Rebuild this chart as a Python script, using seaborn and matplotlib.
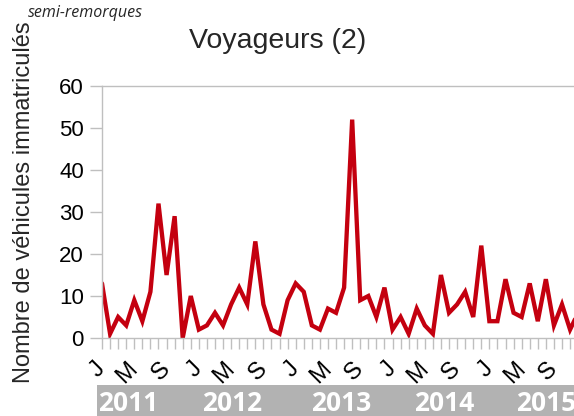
import matplotlib
matplotlib.use("Agg")
import matplotlib.pyplot as plt
from matplotlib.patches import Rectangle
import matplotlib.transforms as mtransforms
import numpy as np
import pandas as pd
import seaborn as sns

# ---- data ----
years = ["2011", "2012", "2013", "2014", "2015"]
month_letters = ["J", "M", "S"]  # labels every 4 months
v2011 = [13, 1, 5, 3, 9, 4, 11, 32, 15, 29, 0, 10]
v2012 = [2, 3, 6, 3, 8, 12, 8, 23, 8, 2, 1, 9]
v2013 = [13, 11, 3, 2, 7, 6, 12, 52, 9, 10, 5, 12]
v2014 = [2, 5, 1, 7, 3, 1, 15, 6, 8, 11, 5, 22]
v2015 = [4, 4, 14, 6, 5, 13, 4, 14, 3, 8, 2, 6]
yticks = [0, 10, 20, 30, 40, 50, 60]

values = v2011 + v2012 + v2013 + v2014 + v2015
df = pd.DataFrame({"idx": np.arange(len(values)), "val": values})

sns.set_theme(style="white")
plt.rcParams["font.family"] = ["Liberation Sans", "DejaVu Sans"]

W, H = 574, 416
fig = plt.figure(figsize=(W / 100, H / 100), dpi=100)
px_per = 8.07
left, top, bottom = 102, 86, 338
xmax = 60
ax = fig.add_axes([left / W, (H - bottom) / H, xmax * px_per / W, (bottom - top) / H])

sns.lineplot(data=df, x="idx", y="val", ax=ax, color="#c4000f", linewidth=3.1,
             solid_joinstyle="miter")

ax.set_xlim(0, xmax)
ax.set_ylim(0, 60)
ax.set_xlabel("")
ax.set_ylabel("")

gray = "#bfbfbf"
for s in ["left", "top", "bottom"]:
    ax.spines[s].set_color(gray)
    ax.spines[s].set_linewidth(1.0)
ax.spines["right"].set_visible(False)

ax.set_yticks(yticks)
ax.set_yticklabels([str(t) for t in yticks])
ax.tick_params(axis="y", direction="out", length=9, width=1, color=gray,
               labelsize=16, labelcolor="black", pad=4, left=True)

n = len(values)
ax.set_xticks(np.arange(n))
xl = []
for i in range(n):
    m = i % 12
    xl.append(month_letters[m // 4] if m % 4 == 0 else "")
ax.set_xticklabels(xl)
ax.tick_params(axis="x", direction="out", length=8, width=1, color=gray,
               labelsize=17, labelcolor="black", pad=12, bottom=True)
for lab in ax.get_xticklabels():
    lab.set_rotation(45)
    lab.set_ha("right")
    lab.set_va("center")
    lab.set_rotation_mode("anchor")

# year band
band = Rectangle((97 / W, 0), 1 - 97 / W, (H - 385) / H, transform=fig.transFigure,
                 facecolor="#b2b2b2", edgecolor="none", zorder=0)
fig.add_artist(band)
year_centers = [3.2, 16.1, 29.6, 42.4, 55.0]
trans = mtransforms.blended_transform_factory(ax.transData, fig.transFigure)
for yr, xc in zip(years, year_centers):
    fig.text(xc, (H - 411) / H, yr, transform=trans, ha="center", va="baseline",
             color="white", fontsize=19, fontweight="bold", family=["Open Sans", "DejaVu Sans"])

# texts
fig.text(277.5 / W, (H - 48) / H, "Voyageurs (2)", ha="center", va="baseline", fontsize=20.5)
fig.text(24 / W, 214 / H, "Nombre de véhicules immatriculés", rotation=90,
         ha="center", va="center", fontsize=17)
fig.text(28 / W, (H - 17) / H, "semi-remorques", ha="left", va="baseline",
         fontsize=11.5, style="italic", family=["Open Sans", "DejaVu Sans"])

fig.savefig("out.png", dpi=100)
